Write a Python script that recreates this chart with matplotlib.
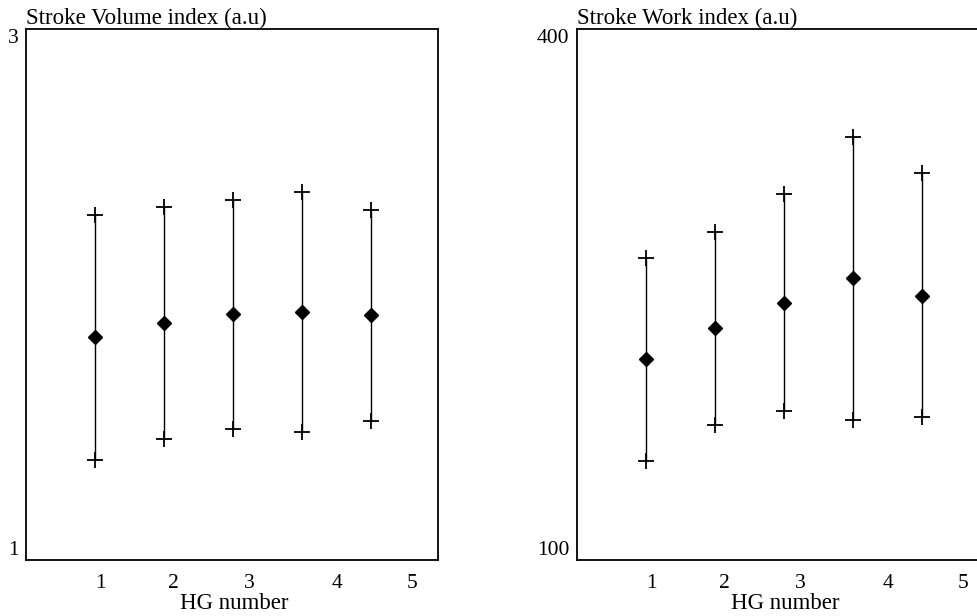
import matplotlib
matplotlib.use("Agg")
import matplotlib.pyplot as plt

# HG groups and their summary statistics
hg_groups = [1, 2, 3, 4, 5]
hg_labels = ["1", "2", "3", "4", "5"]

svi_mean = [1.839, 1.894, 1.925, 1.935, 1.923]
svi_upper = [2.299, 2.331, 2.356, 2.385, 2.318]
svi_lower = [1.377, 1.455, 1.492, 1.483, 1.525]

swi_mean = [213.4, 230.9, 245.4, 259.2, 249.3]
swi_upper = [270.8, 285.1, 306.8, 339.2, 318.8]
swi_lower = [156.1, 176.1, 184.2, 179.1, 181.0]

plt.rcParams["font.family"] = ["Liberation Serif", "DejaVu Serif"]

W, H = 978, 616
fig = plt.figure(figsize=(W / 100, H / 100), dpi=100)

label_pos = [1.08, 2.13, 3.23, 4.50, 5.60]
TEXT_SIZE = 16.5
TICK_SIZE = 15.5


def panel(rect, mean, upper, lower, ylim, title):
    ax = fig.add_axes(rect)
    for x, m, u, l in zip(hg_groups, mean, upper, lower):
        ax.plot([x, x], [l, u], color="black", lw=1.0, zorder=1)
    ax.plot(hg_groups, upper, linestyle="none", marker="+", ms=12,
            mew=1.3, color="black", zorder=2)
    ax.plot(hg_groups, lower, linestyle="none", marker="+", ms=12,
            mew=1.3, color="black", zorder=2)
    ax.plot(hg_groups, mean, linestyle="none", marker="D", ms=7.5,
            color="black", zorder=3)
    ax.set_xlim(0, 5.97)
    ax.set_ylim(*ylim)
    ax.set_xticks(label_pos)
    ax.set_xticklabels(hg_labels)
    ax.set_yticks(list(ylim))
    ax.set_yticklabels([str(v) for v in ylim])
    ylabels = ax.get_yticklabels()
    ylabels[0].set_verticalalignment("bottom")
    ylabels[1].set_verticalalignment("top")
    ax.tick_params(axis="both", length=0, labelsize=TICK_SIZE)
    ax.tick_params(axis="x", pad=10)
    ax.tick_params(axis="y", pad=5.5)
    for s in ax.spines.values():
        s.set_linewidth(1.3)
    ax.set_xlabel("HG number", fontsize=TEXT_SIZE)
    ax.xaxis.set_label_coords(0.505, -0.0915)
    ax.xaxis.label.set_verticalalignment("baseline")
    ax.text(0.0, 1.0094, title, transform=ax.transAxes, ha="left",
            va="baseline", fontsize=TEXT_SIZE)
    return ax


axes_w = 412 / W
axes_h = 531 / H
bottom = (H - 560) / H

panel([26 / W, bottom, axes_w, axes_h], svi_mean, svi_upper, svi_lower,
      (1, 3), "Stroke Volume index (a.u)")
panel([577 / W, bottom, axes_w, axes_h], swi_mean, swi_upper, swi_lower,
      (100, 400), "Stroke Work index (a.u)")

fig.savefig("out.png", dpi=100)
